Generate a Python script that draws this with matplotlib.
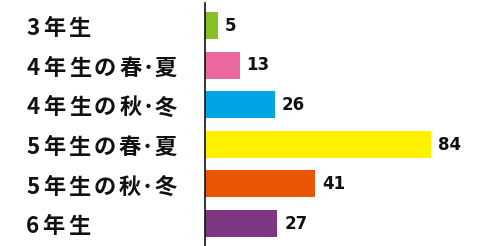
import matplotlib.pyplot as plt
from matplotlib.font_manager import FontProperties
from matplotlib.textpath import TextPath

plt.rcParams['font.family'] = ['Noto Sans CJK JP', 'DejaVu Sans']

categories = ['3年生', '4年生の春･夏', '4年生の秋･冬', '5年生の春･夏', '5年生の秋･冬', '6年生']
values = [5, 13, 26, 84, 41, 27]
colors = ['#86C127', '#EA689E', '#00A5E5', '#FFF000', '#EA5506', '#7E3683']

DPI = 100


def ink_box(ch, prop):
    # ink extents of one glyph, in pixels
    e = TextPath((0, 0), ch, prop=prop).get_extents()
    k = DPI / 72
    return e.x0 * k, e.x1 * k, e.y0 * k, e.y1 * k


def spaced_label(ax, x_px, y, text, prop, gap_px, dy_px):
    # draw a label one glyph at a time, with a fixed gap between the glyphs' ink
    _, _, cy0, cy1 = ink_box('年', prop)
    base = dy_px - (cy0 + cy1) / 2
    cursor = x_px
    for ch in text:
        x0, x1, _, _ = ink_box(ch, prop)
        ax.annotate(ch, xy=(0, y), xycoords=ax.get_yaxis_transform(),
                    xytext=(cursor - x0, base), textcoords='offset pixels',
                    ha='left', va='baseline', fontproperties=prop, color='#111111')
        cursor += (x1 - x0) + gap_px


def main():
    fig = plt.figure(figsize=(4.96, 2.46), dpi=DPI)
    ax_left = 204.5
    ax = fig.add_axes([ax_left / 496, 0, 270 / 496, 243 / 246])

    pos = list(range(len(categories)))
    ax.barh(pos, values, height=0.68, color=colors)

    num_prop = FontProperties(family='DejaVu Sans', weight='bold', size=12)
    _, _, ny0, ny1 = ink_box('8', num_prop)
    for i, v in enumerate(values):
        ax.annotate(str(v), xy=(v, i), xytext=(7, 0.8 - (ny0 + ny1) / 2), textcoords='offset pixels',
                    ha='left', va='baseline', fontproperties=num_prop, color='#111111')

    prop = FontProperties(family='Noto Sans CJK JP', weight='bold', size=16)
    for i, c in enumerate(categories):
        spaced_label(ax, 27.3 - ax_left, i, c, prop, 5.0, -1.3)

    ax.set_xlim(0, 100)
    ax.set_ylim(len(categories) - 1 + 0.568, -0.568)
    for s in ['top', 'right', 'bottom']:
        ax.spines[s].set_visible(False)
    ax.spines['left'].set_linewidth(1.2)
    ax.spines['left'].set_color('#111111')
    ax.set_xticks([])
    ax.set_yticks([])

    fig.savefig('out.png', dpi=DPI)


if __name__ == '__main__':
    main()
